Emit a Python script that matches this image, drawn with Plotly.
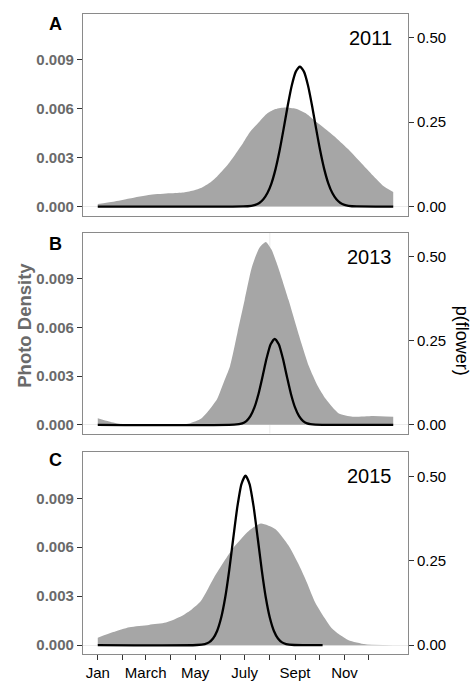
import plotly.graph_objects as go

# ---------------- data ----------------
years = ["2011", "2013", "2015"]
panel_letters = ["A", "B", "C"]

# photo density (left axis), x = day of year
dens_days_2011 = [1, 20, 40, 66, 90, 107, 120, 128, 140, 148, 160, 169, 180, 189, 200, 210, 220, 232, 245, 258, 270, 283, 295, 310, 325, 340, 352, 365]
dens_vals_2011 = [0.00016, 0.0003, 0.0005, 0.00073, 0.00082, 0.00087, 0.001, 0.00114, 0.0015, 0.00185, 0.0025, 0.0031, 0.0039, 0.0046, 0.0052, 0.00572, 0.00598, 0.00608, 0.00600, 0.0057, 0.0052, 0.0047, 0.0042, 0.0035, 0.0027, 0.0019, 0.0013, 0.0009]

dens_days_2013 = [1, 15, 30, 40, 100, 115, 128, 138, 148, 156, 164, 173, 182, 191, 200, 208, 215, 223, 236, 248, 261, 272, 282, 298, 315, 340, 365]
dens_vals_2013 = [0.0004, 0.0002, 0.00003, 0.0, 0.0, 0.0001, 0.00037, 0.0009, 0.00159, 0.0026, 0.00363, 0.00566, 0.0077, 0.00974, 0.0109, 0.01127, 0.0108, 0.00974, 0.0077, 0.00566, 0.00363, 0.0024, 0.00159, 0.0007, 0.0005, 0.00055, 0.0005]

dens_days_2015 = [1, 20, 40, 64, 85, 105, 117, 128, 146, 167, 187, 202, 220, 236, 249, 259, 269, 280, 290, 300, 310, 331, 365]
dens_vals_2015 = [0.00045, 0.0008, 0.0011, 0.00124, 0.00138, 0.0018, 0.0022, 0.0027, 0.0043, 0.0059, 0.0070, 0.00745, 0.0071, 0.0061, 0.0049, 0.0038, 0.0026, 0.0017, 0.001, 0.0006, 0.0003, 0.00005, 0.0]

# p(flower) (right axis)
pf_days_2011 = [1, 180, 190, 195, 200, 205, 210, 215, 220, 225, 230, 235, 240, 245, 250, 255, 260, 265, 270, 275, 280, 285, 290, 295, 300, 305, 310, 320, 365]
pf_vals_2011 = [0, 0.0003, 0.0022, 0.005, 0.0107, 0.0215, 0.040, 0.069, 0.111, 0.166, 0.231, 0.299, 0.359, 0.400, 0.415, 0.400, 0.359, 0.299, 0.231, 0.166, 0.111, 0.069, 0.040, 0.0215, 0.0107, 0.005, 0.0022, 0.0003, 0]

pf_days_2013 = [1, 169, 179, 184, 189, 194, 199, 204, 209, 214, 219, 224, 229, 234, 239, 244, 249, 254, 259, 269, 280, 320, 365]
pf_vals_2013 = [0, 0.0004, 0.0043, 0.0113, 0.026, 0.052, 0.092, 0.144, 0.198, 0.240, 0.256, 0.240, 0.198, 0.144, 0.092, 0.052, 0.026, 0.0113, 0.0043, 0.0004, 0, 0, 0]

pf_days_2015 = [1, 123, 133, 138, 143, 148, 153, 158, 163, 168, 173, 178, 183, 188, 193, 198, 203, 208, 213, 218, 223, 228, 233, 243, 278]
pf_vals_2015 = [0, 0.0003, 0.0032, 0.0082, 0.0196, 0.042, 0.081, 0.141, 0.223, 0.318, 0.41, 0.477, 0.502, 0.477, 0.41, 0.318, 0.223, 0.141, 0.081, 0.042, 0.0196, 0.0082, 0.0032, 0.0003, 0]

month_ticks = [1, 32, 60, 91, 121, 152, 182, 213, 244, 274, 305, 335]
month_labels = ["Jan", "", "March", "", "May", "", "July", "", "Sept", "", "Nov", ""]
left_ticks = [0, 0.003, 0.006, 0.009]
left_labels = ["0.000", "0.003", "0.006", "0.009"]
right_ticks = [0, 0.25, 0.5]
right_labels = ["0.00", "0.25", "0.50"]

panels = [
    (dens_days_2011, dens_vals_2011, pf_days_2011, pf_vals_2011),
    (dens_days_2013, dens_vals_2013, pf_days_2013, pf_vals_2013),
    (dens_days_2015, dens_vals_2015, pf_days_2015, pf_vals_2015),
]

# ---------------- layout geometry ----------------
W, H = 472, 681
FONT = "Liberation Sans, Arial, Helvetica, sans-serif"
GRAY_TXT = "#6a6a6a"
FRAME = "#8a8a8a"

def fx(px):
    return px / W

def fy(py):
    return 1 - py / H

x_dom = [fx(83), fx(408)]
y_doms = [[fy(216.5), fy(14)], [fy(435.7), fy(234)], [fy(657), fy(454.3)]]
x_range = [-17.2, 383.2]
yl_range = [-0.00055, 0.01182]
yr_range = [-0.0266, 0.571]

fig = go.Figure()
layout = dict(
    width=W, height=H, autosize=False,
    margin=dict(l=0, r=0, t=0, b=0),
    paper_bgcolor="white", plot_bgcolor="white",
    font=dict(family=FONT, color="black"),
    showlegend=False,
)

for i, (dd, dv, ld, lv) in enumerate(panels):
    n = i + 1
    xs = "x" if n == 1 else f"x{n}"
    yl = "y" if n == 1 else f"y{n}"
    yr = f"y{n + 3}"
    fig.add_trace(go.Scatter(x=dd, y=dv, xaxis=xs, yaxis=yl, mode="lines",
                             line=dict(color="rgba(0,0,0,0)", width=0, shape="spline", smoothing=0.6),
                             fill="tozeroy", fillcolor="#a6a6a6", hoverinfo="skip"))
    fig.add_trace(go.Scatter(x=ld, y=lv, xaxis=xs, yaxis=yr, mode="lines",
                             line=dict(color="black", width=2.3, shape="spline", smoothing=0.6),
                             hoverinfo="skip"))
    xkey = "xaxis" if n == 1 else f"xaxis{n}"
    ylkey = "yaxis" if n == 1 else f"yaxis{n}"
    yrkey = f"yaxis{n + 3}"
    last = (n == 3)
    layout[xkey] = dict(
        domain=x_dom, anchor=yl, range=x_range, showgrid=False, zeroline=False,
        showline=True, mirror=True, linecolor=FRAME, linewidth=1.3,
        ticks="outside" if last else "", ticklen=5, tickcolor="#333333", tickwidth=1,
        tickvals=month_ticks, ticktext=month_labels, showticklabels=last,
        tickfont=dict(family=FONT, size=15, color="black"), fixedrange=True,
    )
    layout[ylkey] = dict(
        domain=y_doms[i], anchor=xs, range=yl_range, showgrid=False,
        zeroline=True, zerolinecolor="#ececec", zerolinewidth=1,
        showline=True, mirror=True, linecolor=FRAME, linewidth=1.3,
        ticks="outside", ticklen=5, tickcolor="#333333", tickwidth=1,
        tickvals=left_ticks, ticktext=left_labels,
        tickfont=dict(family=FONT, size=15, color=GRAY_TXT, weight="bold"), fixedrange=True,
    )
    layout[yrkey] = dict(
        overlaying=yl, anchor=xs, side="right", range=yr_range, showgrid=False,
        zeroline=False, showline=False,
        ticks="outside", ticklen=5, tickcolor="#333333", tickwidth=1,
        tickvals=right_ticks, ticktext=right_labels,
        tickfont=dict(family=FONT, size=15, color="black"), fixedrange=True,
    )

fig.update_layout(**layout)

# faint vertical grid line seen in panel B
fig.add_shape(type="line", xref="x2", yref="y2", x0=213, x1=213, y0=yl_range[0], y1=yl_range[1],
              line=dict(color="#ececec", width=1), layer="below")

letter_y = [23.8, 245.3, 461.7]
year_y = [38.2, 257.8, 478.3]
for i in range(3):
    fig.add_annotation(x=fx(55), y=fy(letter_y[i]), xref="paper", yref="paper",
                       text=panel_letters[i], showarrow=False, xanchor="center", yanchor="middle",
                       font=dict(family=FONT, size=18, color="black", weight="bold"))
    fig.add_annotation(x=fx(394), y=fy(year_y[i]), xref="paper", yref="paper",
                       text=years[i], showarrow=False, xanchor="right", yanchor="middle",
                       font=dict(family=FONT, size=20, color="black"))

fig.add_annotation(x=fx(23.7), y=fy(326.5), xref="paper", yref="paper", text="Photo Density",
                   textangle=-90, showarrow=False, xanchor="center", yanchor="middle",
                   font=dict(family=FONT, size=18.5, color=GRAY_TXT, weight="bold"))
fig.add_annotation(x=fx(461.5), y=fy(341.7), xref="paper", yref="paper", text="p(flower)",
                   textangle=90, showarrow=False, xanchor="center", yanchor="middle",
                   font=dict(family=FONT, size=18, color="black"))

fig.write_html("out.html")
